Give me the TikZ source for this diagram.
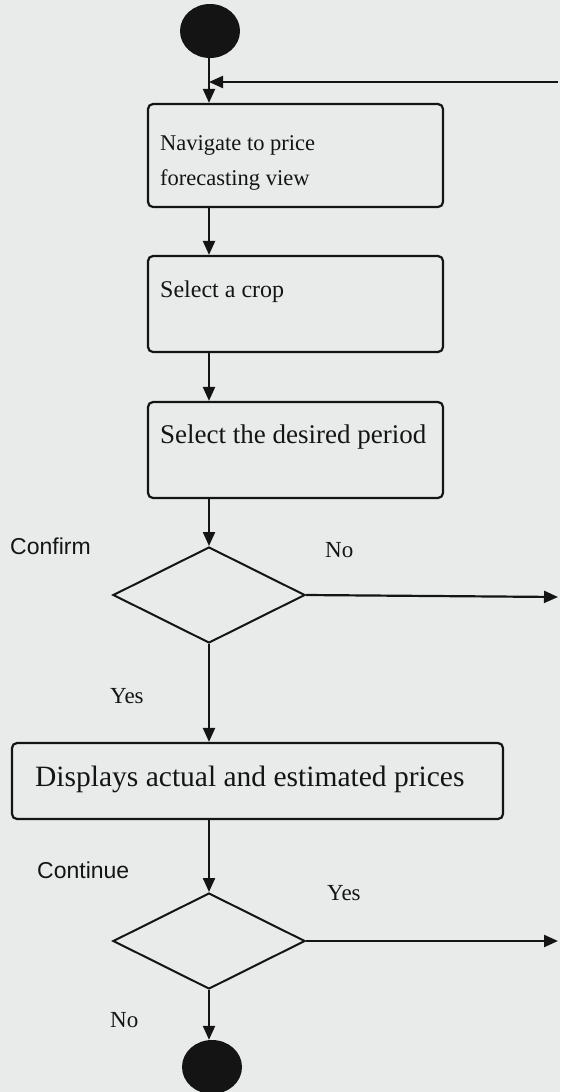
\documentclass[tikz,border=0pt]{standalone}
\usepackage{fontspec}
\setmainfont{Liberation Serif}
\newfontfamily\labelsans{Liberation Sans}
\usetikzlibrary{shapes.geometric,arrows.meta}
\definecolor{paper}{RGB}{233,235,234}
\definecolor{ink}{RGB}{20,20,20}

\begin{document}
\begin{tikzpicture}[x=1pt,y=-1pt,
  line/.style={draw=ink, line width=2.2pt},
  flow/.style={line, -{Triangle[length=14pt,width=12pt]}},
  stepbox/.style={draw=ink, line width=2.2pt, rounded corners=5pt, minimum width=295pt, inner sep=0pt},
  choice/.style={draw=ink, line width=2pt, diamond, inner sep=0pt, minimum width=192pt, minimum height=96pt},
  dot/.style={ellipse, fill=ink, inner sep=0pt, minimum width=60pt, minimum height=54pt},
  boxtext/.style={anchor=base west, inner sep=0pt, text=ink, align=left},
  serlabel/.style={anchor=base west, inner sep=0pt, font=\fontsize{23}{26}\selectfont, text=ink},
  sanlabel/.style={anchor=base west, inner sep=0pt, font=\labelsans\fontsize{23}{26}\selectfont, text=ink}
]
\fill[paper] (0,0) rectangle (560,1092);
\useasboundingbox (0,0) rectangle (560,1092);

% start and end states
\node[dot] (start) at (210,31) {};
\node[dot] (stop) at (212,1067) {};

% activity boxes
\node[stepbox, minimum height=103pt] (b1) at (295.5,155.5) {};
\node[stepbox, minimum height=96pt] (b2) at (295.5,304) {};
\node[stepbox, minimum height=96pt] (b3) at (295.5,450) {};
\node[stepbox, minimum width=491pt, minimum height=76pt] (b4) at (257.5,781) {};

% the two-line text is anchored on its last baseline
\node[boxtext, font=\fontsize{22.5}{35}\selectfont] (t1) at (160,185) {Navigate to price\\forecasting view};
\node[boxtext, font=\fontsize{24}{30}\selectfont] (t2) at (160,297) {Select a crop};
\node[boxtext, font=\fontsize{27}{32}\selectfont] (t3) at (160,443) {Select the desired period};
\node[boxtext, font=\fontsize{29.5}{36}\selectfont] (t4) at (35,786) {Displays actual and estimated prices};

% decisions
\node[choice] (d1) at (209,595) {};
\node[choice] (d2) at (209,941) {};

% guard labels
\node[sanlabel] (lconfirm) at (10,554) {Confirm};
\node[serlabel] (lno1) at (325,557) {No};
\node[serlabel] (lyes1) at (110,703) {Yes};
\node[sanlabel] (lcont) at (37,878) {Continue};
\node[serlabel] (lyes2) at (327,900) {Yes};
\node[serlabel] (lno2) at (110,1027) {No};

% loop-back points at the right margin
\coordinate (join) at (209,82);
\coordinate (back) at (558,82);
\coordinate (noout) at (558,597);
\coordinate (yesout) at (558,941);

% connectors
\draw[flow] (start.south -| join) -- (b1.north -| join);
\draw[flow] (back) -- (join);
\draw[flow] (b1.south -| join) -- (b2.north -| join);
\draw[flow] (b2.south -| join) -- (b3.north -| join);
\draw[flow] (b3.south -| join) -- (d1.north);
\draw[flow] (d1.south) -- (b4.north -| join);
\draw[flow] (d1.east) -- (noout);
\draw[flow] (b4.south -| join) -- (d2.north);
\draw[flow] (d2.east) -- (yesout);
\draw[flow] (d2.south) -- (stop.north -| join);
\end{tikzpicture}
\end{document}
